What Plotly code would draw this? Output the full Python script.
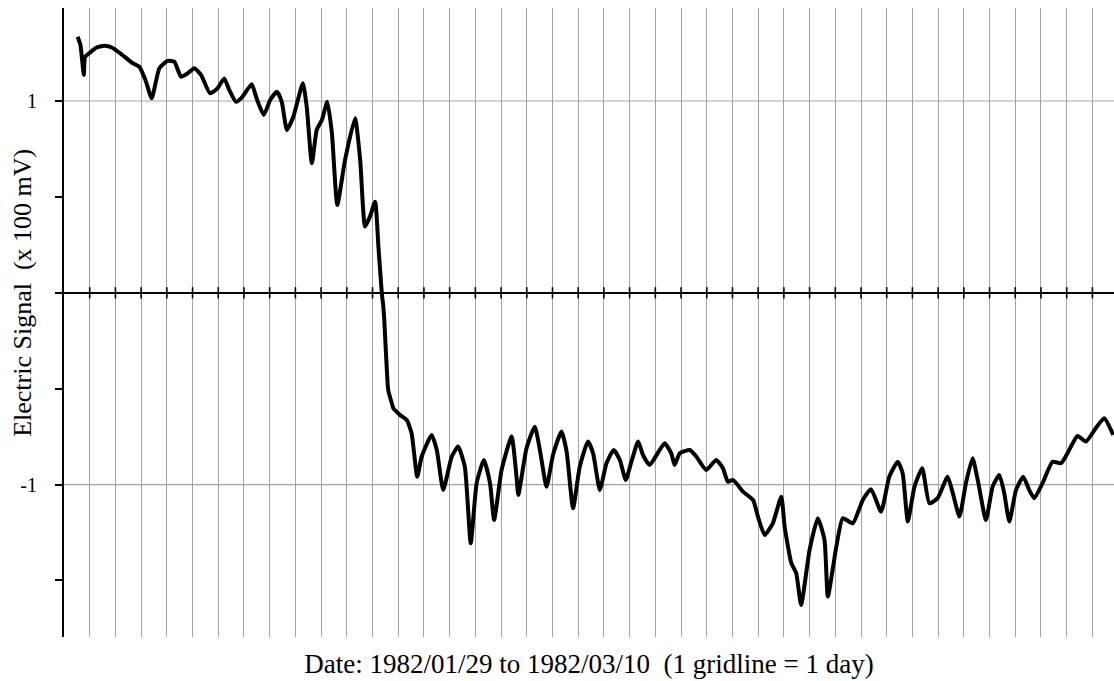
import plotly.graph_objects as go

# Days since 1982/01/29 (1 gridline = 1 day)
days = [0.53, 0.64, 0.77, 0.82, 0.99, 1.25, 1.57, 1.88, 2.27, 2.66, 2.93, 3.19, 3.41, 3.71,
        4.03, 4.29, 4.55, 4.81, 5.07, 5.33, 5.68, 5.97, 6.23, 6.43, 6.69, 6.94, 7.30, 7.50,
        7.77, 8.02, 8.28, 8.47, 8.67, 8.92, 9.29, 9.44, 9.64, 9.83, 10.03, 10.24, 10.42,
        10.63, 10.93, 11.32, 11.52, 11.71, 11.90, 12.10, 12.23, 12.36, 12.42, 12.45, 12.55,
        12.61, 12.75, 12.81, 13.07, 13.33, 13.52, 13.74, 13.91, 14.30, 14.50, 14.75, 15.08,
        15.33, 15.59, 15.82, 16.05, 16.33, 16.57, 16.73, 17.02, 17.41, 17.60, 17.67, 17.99,
        18.31, 18.51, 18.77, 19.02, 19.35, 19.55, 19.80, 20.06, 20.38, 20.58, 20.84, 21.10,
        21.38, 21.62, 21.85, 22.07, 22.33, 22.52, 22.78, 23.36, 23.62, 23.75, 23.95, 24.34,
        24.60, 24.98, 25.37, 25.63, 25.82, 26.02, 26.41, 26.80, 26.99, 27.25, 27.57, 27.90,
        28.03, 28.29, 28.48, 28.67, 29.00, 29.32, 29.58, 29.71, 30.04, 30.29, 30.68, 31.07,
        31.39, 31.78, 32.10, 32.43, 32.62, 32.82, 33.08, 33.38, 33.66, 33.98, 34.37, 34.57,
        34.83, 35.08, 35.34, 35.54, 35.86, 36.12, 36.38, 36.57, 36.77, 37.03, 37.31, 37.54,
        37.74, 38.06, 38.45, 38.78, 39.03, 39.42, 39.75, 40.13, 40.46, 40.81]

# Electric signal (x 100 mV)
signal = [1.335, 1.292, 1.136, 1.231, 1.250, 1.278, 1.288, 1.278, 1.240, 1.198, 1.179, 1.101,
          1.014, 1.171, 1.209, 1.205, 1.127, 1.144, 1.171, 1.136, 1.040, 1.066, 1.118, 1.057,
          0.996, 1.022, 1.088, 1.010, 0.927, 1.005, 1.048, 0.996, 0.849, 0.918, 1.092, 0.970,
          0.675, 0.849, 0.901, 0.996, 0.832, 0.458, 0.692, 0.910, 0.692, 0.345, 0.397, 0.475,
          0.240, 0.000, -0.072, -0.125, -0.385, -0.507, -0.576, -0.602, -0.637, -0.663,
          -0.733, -0.959, -0.855, -0.741, -0.820, -1.028, -0.855, -0.802, -0.907, -1.306,
          -0.993, -0.872, -0.993, -1.185, -0.924, -0.750, -0.959, -1.054, -0.811, -0.698,
          -0.820, -1.011, -0.846, -0.724, -0.828, -1.124, -0.907, -0.776, -0.837, -1.028,
          -0.889, -0.820, -0.872, -0.976, -0.881, -0.776, -0.846, -0.898, -0.785, -0.837,
          -0.898, -0.837, -0.820, -0.855, -0.924, -0.872, -0.915, -0.985, -0.976, -1.037,
          -1.080, -1.167, -1.263, -1.202, -1.063, -1.220, -1.410, -1.462, -1.628, -1.341,
          -1.176, -1.289, -1.584, -1.324, -1.176, -1.202, -1.080, -1.024, -1.141, -0.959,
          -0.881, -0.941, -1.193, -1.011, -0.915, -1.098, -1.071, -0.959, -1.045, -1.167,
          -0.993, -0.863, -0.976, -1.185, -1.011, -0.950, -1.045, -1.193, -1.028, -0.959,
          -1.028, -1.071, -0.993, -0.881, -0.889, -0.837, -0.747, -0.776, -0.706, -0.654,
          -0.741]

grid_days = list(range(1, 41))
zero_vals = [0] * len(grid_days)

y_tickvals = [-1.5, -1, -0.5, 0, 0.5, 1]
y_ticktext = ["", "-1", "", "", "", "1"]

FONT = "Liberation Serif, Times New Roman, serif"

fig = go.Figure()

fig.add_trace(go.Scatter(
    x=days, y=signal, mode="lines",
    line=dict(color="black", width=4, shape="spline", smoothing=0.5),
    showlegend=False, hoverinfo="skip",
))

fig.add_trace(go.Scatter(
    x=grid_days, y=zero_vals, mode="markers",
    marker=dict(symbol="line-ns", size=8, line=dict(color="black", width=1.6)),
    showlegend=False, hoverinfo="skip",
))

fig.update_layout(
    width=1114, height=681,
    margin=dict(l=64, r=0, t=8, b=44),
    paper_bgcolor="white", plot_bgcolor="white",
    font=dict(family=FONT, color="black"),
    xaxis=dict(
        range=[0, 40.84], tick0=0, dtick=1,
        showgrid=True, gridcolor="#a3a3a3", gridwidth=1.2,
        showticklabels=False, ticks="", zeroline=False, showline=False,
        title=dict(text="Date: 1982/01/29 to 1982/03/10\u00a0\u00a0(1 gridline = 1 day)",
                   font=dict(size=27, family=FONT), standoff=17),
        automargin=False,
    ),
    yaxis=dict(
        range=[-1.795, 1.485],
        tickvals=y_tickvals, ticktext=y_ticktext,
        ticks="outside", ticklen=7, tickwidth=1.6, tickcolor="black",
        tickfont=dict(size=20, family=FONT),
        ticklabelstandoff=14,
        showgrid=False,
        zeroline=True, zerolinecolor="black", zerolinewidth=1.8,
        showline=True, linecolor="black", linewidth=2,
        automargin=False,
    ),
    annotations=[dict(
        text="Electric Signal\u00a0\u00a0(x 100 mV)",
        xref="paper", yref="y", x=-0.039, y=0,
        xanchor="center", yanchor="middle", textangle=-90,
        showarrow=False, font=dict(size=26, family=FONT),
    )],
)

for yv in [1, -1]:
    fig.add_hline(y=yv, line=dict(color="#a3a3a3", width=1.2), layer="below")

fig.write_html("out.html", config={"displayModeBar": False},
               post_script="document.body.style.margin='0px';")
